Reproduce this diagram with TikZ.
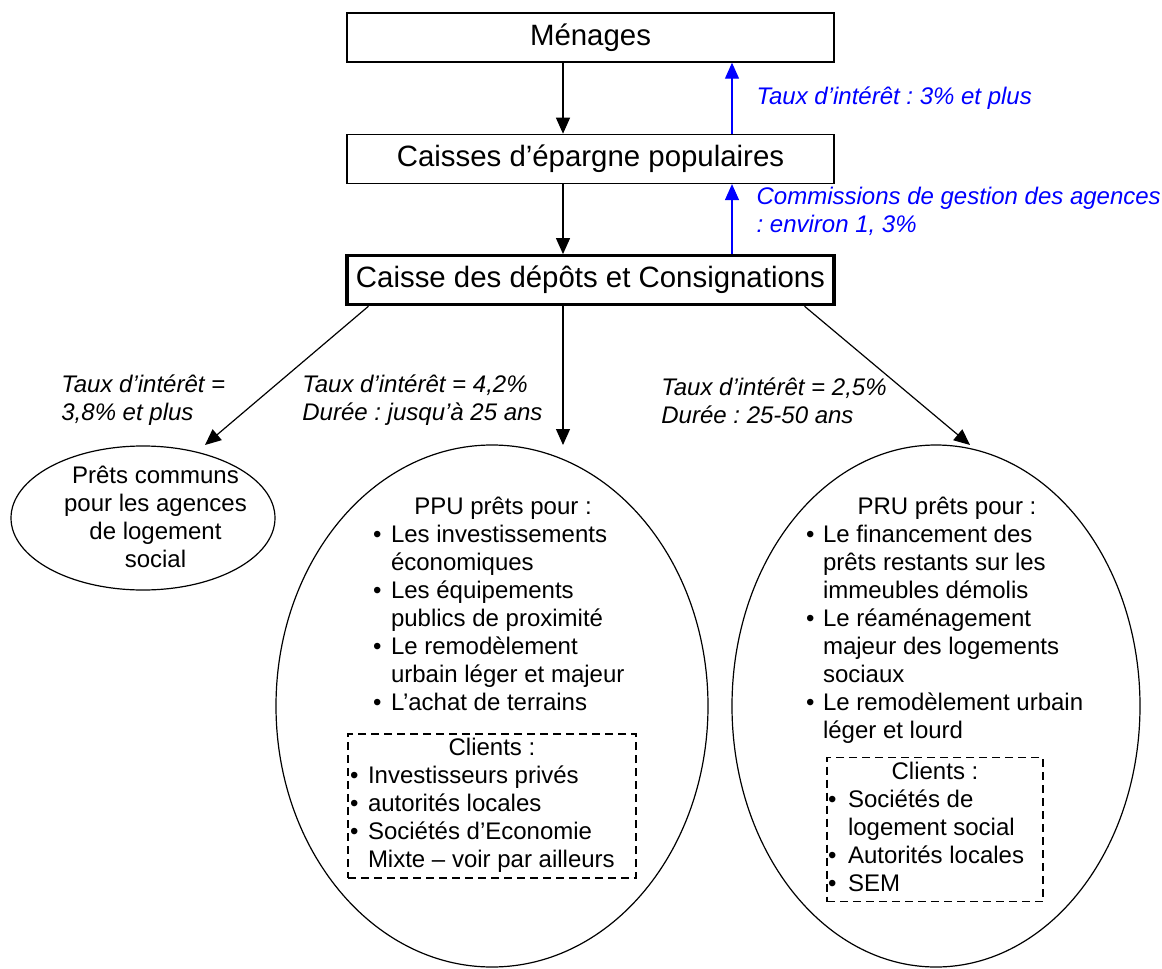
\documentclass[tikz,border=0pt]{standalone}
\usepackage{fontspec}
\setmainfont{Liberation Sans}
\frenchspacing
\usepackage{tikz}
\usetikzlibrary{
  shapes.geometric,
  arrows.meta,
  positioning
}
\definecolor{FlowBlue}{HTML}{0000FF}
\tikzset{
  % Institution box: fixed size
  box/.style={
    rectangle, draw=black, line width=0.7pt,
    minimum width=243.5pt, minimum height=24.5pt, inner sep=0pt,
    font=\fontsize{14.7}{17}\selectfont
  },
  % Loan ellipse
  ell/.style={ellipse, draw=black, line width=0.6pt, inner sep=0pt},
  % Dashed clients frame
  clbox/.style={
    rectangle, draw=black, dash pattern=on 4pt off 2.5pt,
    line width=0.6pt, inner xsep=1pt, inner ysep=1pt,
    font=\fontsize{12}{14}\selectfont
  },
  % Plain text block
  txt/.style={inner sep=0pt, font=\fontsize{12}{14}\selectfont},
  % Arrow
  arr/.style={
    -{Triangle[length=8pt,width=7pt]},
    line width=0.6pt, color=#1
  },
  arr/.default=black,
  % Edge label
  lbl/.style={
    font=\fontsize{12}{14}\selectfont\itshape,
    align=left, inner sep=0pt, anchor=west
  }
}
\begin{document}
\begin{tikzpicture}[x=0.5pt, y=-0.5pt]
  \useasboundingbox (0,0) rectangle (1162,969);

  % Columns of the vertical flows
  \coordinate (colA) at (563,0);
  \coordinate (colB) at (732,0);

  % Institutions
  \node[box] (men) at (590.5,37.5) {Ménages};
  \node[box, below=35.5pt of men] (cep) {Caisses d’épargne populaires};
  \node[box, line width=1.6pt, below=35pt of cep] (cdc) {Caisse des dépôts et Consignations};

  % Savings flows and returns
  \draw[arr] (men.south -| colA) -- (cep.north -| colA);
  \draw[arr] (cep.south -| colA) -- (cdc.north -| colA);
  \draw[arr=FlowBlue] (cep.north -| colB) --
    node[lbl, text=FlowBlue, right=12pt] (ret1) {Taux d’intérêt : 3\% et plus} (men.south -| colB);
  \draw[arr=FlowBlue] (cdc.north -| colB) --
    node[lbl, text=FlowBlue, right=12pt, yshift=3.75pt] (ret2) {Commissions de gestion des agences\\: environ 1, 3\%} (cep.south -| colB);

  % Loan ellipses
  \node[ell, minimum width=132pt, minimum height=72pt] (com) at (143,518) {};
  \node[txt, align=center] (com-txt) at (155.5,516.5) {Prêts communs\\pour les agences\\de logement\\social};
  \node[ell, minimum width=216pt, minimum height=261pt] (ppu) at (492,706) {};
  \node[ell, minimum width=204pt, minimum height=261pt] (pru) at (936,706) {};

  % Loans from the CDC
  \coordinate (tipL) at (205,445);
  \coordinate (tipM) at (563,445);
  \coordinate (tipR) at (970,445);
  \draw[arr] ([xshift=11.5pt]cdc.south west) -- (tipL);
  \draw[arr] (cdc.south -| tipM) -- (tipM);
  \draw[arr] ([xshift=-15.5pt]cdc.south east) -- (tipR);
  \node[lbl] (rate-com) at (61,400.5) {Taux d’intérêt =\\3,8\% et plus};
  \node[lbl] (rate-ppu) at (302,400.5) {Taux d’intérêt = 4,2\%\\Durée : jusqu’à 25 ans};
  \node[lbl] (rate-pru) at (661,400.5) {Taux d’intérêt = 2,5\%\\Durée : 25-50 ans};

  % PPU contents
  \node[txt] (ppu-lst) at (503,607) {%
    \begin{tabular}{@{}l@{\hspace{4.8pt}}p{121pt}@{}}
      \multicolumn{2}{c}{PPU prêts pour :}\\
      \textbullet & Les investissements\\
                  & économiques\\
      \textbullet & Les équipements\\
                  & publics de proximité\\
      \textbullet & Le remodèlement\\
                  & urbain léger et majeur\\
      \textbullet & L’achat de terrains
    \end{tabular}};
  \node[clbox] (ppu-cl) at (492,806) {%
    \begin{tabular}{@{}l@{\hspace{4.8pt}}p{133pt}@{}}
      \multicolumn{2}{c}{Clients :}\\
      \textbullet & Investisseurs privés\\
      \textbullet & autorités locales\\
      \textbullet & Sociétés d’Economie\\
                  & Mixte -- voir par ailleurs
    \end{tabular}};

  % PRU contents
  \node[txt] (pru-lst) at (947,621) {%
    \begin{tabular}{@{}l@{\hspace{4.3pt}}p{132.5pt}@{}}
      \multicolumn{2}{c}{PRU prêts pour :}\\
      \textbullet & Le financement des\\
                  & prêts restants sur les\\
                  & immeubles démolis\\
      \textbullet & Le réaménagement\\
                  & majeur des logements\\
                  & sociaux\\
      \textbullet & Le remodèlement urbain\\
                  & léger et lourd
    \end{tabular}};
  \node[clbox, inner xsep=0.5pt] (pru-cl) at (935,829.5) {%
    \begin{tabular}{@{}l@{\hspace{5.8pt}}p{97pt}@{}}
      \multicolumn{2}{c}{Clients :}\\
      \textbullet & Sociétés de\\
                  & logement social\\
      \textbullet & Autorités locales\\
      \textbullet & SEM
    \end{tabular}};

\end{tikzpicture}
\end{document}
